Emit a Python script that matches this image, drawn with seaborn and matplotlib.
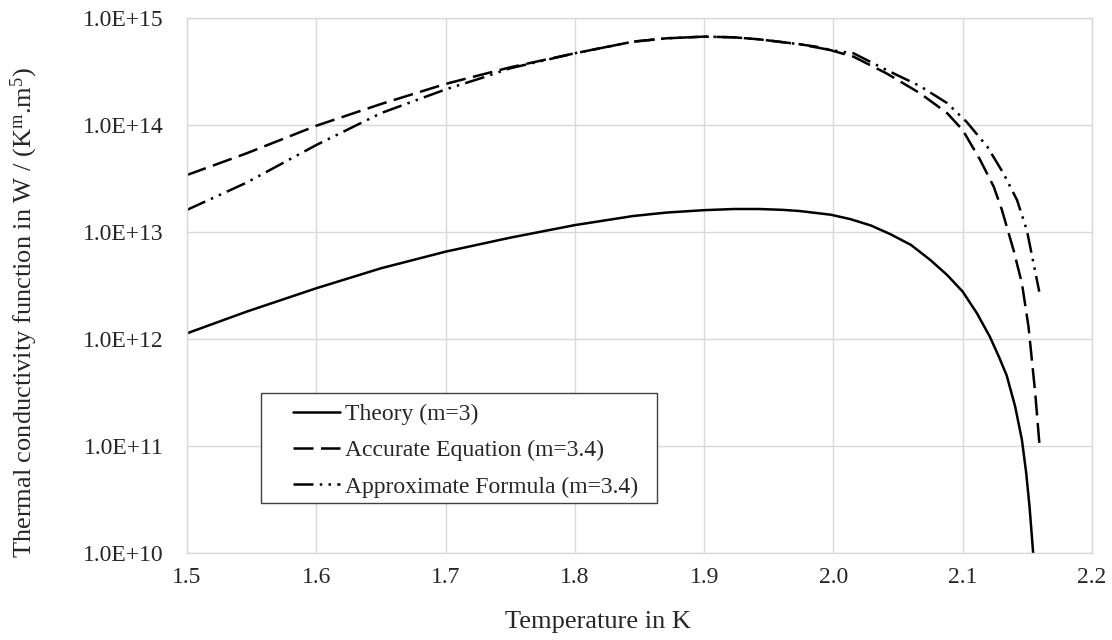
import numpy as np
import pandas as pd
import matplotlib
matplotlib.use("Agg")
import matplotlib.pyplot as plt
import matplotlib.ticker as mticker
from matplotlib.patches import Rectangle
import seaborn as sns

# values
theory_t = [1.500, 1.546, 1.600, 1.650, 1.700, 1.750, 1.800, 1.845, 1.871,
            1.900, 1.923, 1.943, 1.961, 1.974, 1.998, 2.013, 2.029, 2.044,
            2.060, 2.075, 2.088, 2.100, 2.111, 2.121, 2.128, 2.134, 2.1406,
            2.1458, 2.1491, 2.1517, 2.1543, 2.1550]
theory_k = [1.13e12, 1.80e12, 2.98e12, 4.58e12, 6.55e12, 8.85e12, 1.16e13,
            1.41e13, 1.52e13, 1.60e13, 1.64e13, 1.64e13, 1.61e13, 1.57e13,
            1.45e13, 1.32e13, 1.15e13, 9.55e12, 7.57e12, 5.47e12, 3.96e12,
            2.77e12, 1.74e12, 1.05e12, 6.82e11, 4.57e11, 2.33e11, 1.14e11,
            5.6e10, 2.7e10, 1.07e10, 8.0e9]

accurate_t = [1.500, 1.546, 1.600, 1.650, 1.700, 1.750, 1.800, 1.845, 1.871,
              1.900, 1.923, 1.943, 1.974, 1.990, 2.0155, 2.041, 2.067, 2.088,
              2.100, 2.1135, 2.124, 2.1303, 2.1393, 2.1458, 2.1509, 2.1535,
              2.1561, 2.1578, 2.1594]
accurate_k = [3.41e13, 5.43e13, 9.84e13, 1.57e14, 2.42e14, 3.46e14, 4.68e14,
              6.01e14, 6.46e14, 6.70e14, 6.60e14, 6.31e14, 5.68e14, 5.32e14,
              4.35e14, 3.04e14, 1.98e14, 1.29e14, 8.97e13, 4.71e13, 2.65e13,
              1.61e13, 6.79e12, 3.31e12, 1.30e12, 6.37e11, 3.11e11, 1.75e11,
              1.02e11]

approx_t = [1.500, 1.546, 1.600, 1.650, 1.700, 1.727, 1.750, 1.800, 1.845,
            1.871, 1.900, 1.923, 1.943, 1.974, 1.998, 2.0155, 2.041, 2.067,
            2.088, 2.103, 2.119, 2.1315, 2.142, 2.1496, 2.1548, 2.1592]
approx_k = [1.61e13, 2.89e13, 6.50e13, 1.29e14, 2.15e14, 2.73e14, 3.39e14,
            4.68e14, 6.01e14, 6.46e14, 6.70e14, 6.60e14, 6.31e14, 5.68e14,
            5.01e14, 4.68e14, 3.27e14, 2.31e14, 1.60e14, 1.07e14, 6.27e13,
            3.53e13, 1.99e13, 1.04e13, 5.09e12, 2.77e12]

labels = ["Theory (m=3)", "Accurate Equation (m=3.4)",
          "Approximate Formula (m=3.4)"]
x_ticks = [1.5, 1.6, 1.7, 1.8, 1.9, 2.0, 2.1, 2.2]
y_ticks = [1e10, 1e11, 1e12, 1e13, 1e14, 1e15]

sns.set_style("whitegrid")
plt.rcParams["font.family"] = ["Liberation Serif", "DejaVu Serif"]
plt.rcParams["mathtext.fontset"] = "custom"
plt.rcParams["mathtext.rm"] = "Liberation Serif"
plt.rcParams["mathtext.it"] = "Liberation Serif"

W, H = 1112, 640
fig = plt.figure(figsize=(W / 100, H / 100), dpi=100)
# plot area in pixels: x 187..1092, y 18..553
ax = fig.add_axes([187 / W, 1 - 553 / H, 905 / W, 535 / H])

# one long table for seaborn
frames = []
for t, k, name in [(theory_t, theory_k, labels[0]),
                   (accurate_t, accurate_k, labels[1]),
                   (approx_t, approx_k, labels[2])]:
    frames.append(pd.DataFrame({"T": t, "k": k, "series": name}))
df = pd.concat(frames, ignore_index=True)

styles = {labels[0]: "-", labels[1]: (0, (8, 3)),
          labels[2]: (0, (8, 2.5, 1, 2.5, 1, 2.5))}
for name in labels:
    part = df[df["series"] == name]
    sns.lineplot(data=part, x="T", y="k", ax=ax, color="black",
                 linewidth=1.8, linestyle=styles[name], label=name,
                 sort=False, estimator=None)

ax.set_yscale("log")
ax.set_xlim(1.5, 2.2)
ax.set_ylim(1e10, 1e15)
ax.set_xticks(x_ticks)
ax.set_yticks(y_ticks)
ax.yaxis.set_minor_locator(mticker.NullLocator())
ax.xaxis.set_major_formatter(mticker.FuncFormatter(lambda v, p: f"{v:.1f}"))
ax.yaxis.set_major_formatter(mticker.FuncFormatter(lambda v, p: f"{v:.1E}"))
ax.tick_params(axis="y", labelsize=17, length=0, pad=17)
ax.tick_params(axis="x", labelsize=17, length=0, pad=10)
ax.grid(True, color="#d9d9d9", linewidth=1)
for s in ax.spines.values():
    s.set_color("#d9d9d9")
    s.set_linewidth(1)

ax.set_xlabel("Temperature in K", fontsize=19)
ax.xaxis.set_label_coords((598 - 187) / 905, (553 - 611) / 535)
ax.set_ylabel("Thermal conductivity function in W / (K$^{\\mathrm{m}}$.m$^{5}$)",
              fontsize=19)
ax.yaxis.set_label_coords((40 - 187) / 905, (553 - 312) / 535)

leg = ax.legend(loc="upper left", bbox_to_anchor=((293 - 187) / 905 - 0.005,
                                                   (553 - 399) / 535),
                fontsize=17, frameon=False, handlelength=2.0,
                handletextpad=0.2, labelspacing=0.62, borderpad=0.2,
                borderaxespad=0)

# legend frame drawn by hand so the left margin matches the reference
fig.canvas.draw()
bb = leg.get_window_extent().transformed(ax.transAxes.inverted())
x0 = (261 - 187) / 905
frame = Rectangle((x0, (553 - 503) / 535), bb.x1 + 0.015 - x0,
                  (503 - 393) / 535, transform=ax.transAxes,
                  facecolor="white", edgecolor="#404040", linewidth=1,
                  zorder=4)
ax.add_patch(frame)
leg.set_zorder(5)

plt.savefig("out.png", dpi=100)
